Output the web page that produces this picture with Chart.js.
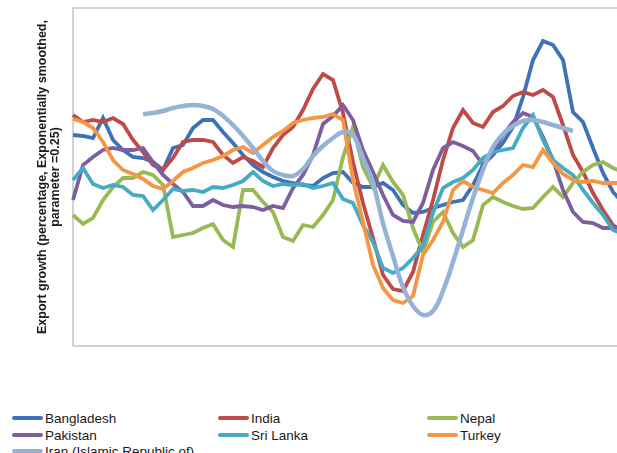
<!DOCTYPE html>
<html>
<head>
<meta charset="utf-8">
<script src="https://cdn.jsdelivr.net/npm/chart.js@4.4.1/dist/chart.umd.min.js"></script>
<style>
  html, body { margin: 0; padding: 0; background: #fff; overflow: hidden; }
  body { width: 617px; height: 453px; position: relative; }
  #wrap { position: absolute; left: 0; top: 0; width: 630px; height: 350px; }
  .leg { position: absolute; height: 17px; line-height: 17px; white-space: nowrap;
         font: 13.5px "Liberation Sans", Arial, sans-serif; color: #1a1a1a; }
  .leg i { display: inline-block; width: 31px; height: 4px; border-radius: 2px;
           vertical-align: middle; margin: -2px 2px 0 0; }
</style>
</head>
<body>
<div id="wrap"><canvas id="exportChart"></canvas></div>
<script>
// 56 periods, no tick labels shown on the original
const periods = Array.from({ length: 56 }, (_, i) => i + 1);

const bangladesh = [9, 8.8, 8.4, 12.4, 8, 6, 4.6, 4.4, 3.6, 2, 6.4, 7, 10.4, 12, 12, 9.6, 7.4, 5, 3, 1.6,
    0.6, -0.2, -0.6, -1, -1.2, 0.4, 1.4, 1.6, -0.6, -1.4, -1.4, -0.6, -2, -5, -6.6, -6.4, -5.6, -5, -4.4, -4,
    -1, 3, 5, 7.4, 10.6, 16.6, 24, 27.8, 27, 24, 13.6, 11.6, 6.4, 1.4, -2.4, -4.6];
const india = [13, 11.6, 12, 11.6, 12.4, 11.2, 8, 5.6, 3, 2, 4.4, 7.6, 8, 8, 7.6, 5, 3.4, 4.6, 3.8, 2.6,
    6.4, 9, 10.6, 14, 18.2, 21.2, 20, 13.4, 3.6, -4.6, -11.6, -19, -21.8, -22.2, -18.4, -11, -4, 4, 10.4, 14,
    11.4, 10.6, 13.6, 14.8, 16.8, 17.6, 17, 18, 16.6, 11, 5, 1.6, -2.6, -6, -9, -10.4];
const nepal = [-7, -8.8, -7.6, -4, -1.4, 0.4, 0.4, 1.6, 1, -1, -11.4, -11, -10.6, -9.6, -8.8, -12, -13.4, -2, -2, -4.4,
    -6.4, -11.4, -12.2, -9, -9.4, -7, -4, 4.6, 10.6, 2.6, -1.4, 3, -0.4, -3, -9.6, -14.4, -8.4, -6.4, -10.6, -13.4,
    -12, -5, -3.4, -4.4, -5.2, -5.8, -5.6, -3.4, -1.4, -3.4, -0.6, 1.6, 3, 3.6, 2.4, 1.6];
const pakistan = [-4, 3, 4.6, 6, 6.4, 6, 6, 6.4, 3.6, 1, -0.8, -2.4, -5.2, -5.2, -4, -5, -5.4, -5.2, -5.4, -6,
    -5.2, -5.6, -1.6, 1, 5, 11.2, 12.8, 15, 12, 6, 1.6, -3, -7, -8.2, -8.4, -4.6, 2, 6.4, 7.6, 6.8,
    5.8, 3, 5.6, 9, 11.6, 13.4, 12.6, 8.6, 4, -2, -6.4, -8.4, -8.6, -9.6, -9.6, -9.2];
const sriLanka = [0, 2.4, -0.8, -1.6, -1, -1.4, -3, -3.2, -6, -4, -1.8, -2.2, -2, -2.4, -1.4, -1.6, -1, -0.2, 1.6, -0.2,
    -1.2, -0.8, -1, -0.8, -1.6, -1.2, -0.6, -3.8, -4.6, -9, -12.4, -17.6, -18.6, -17.6, -15.6, -13.2, -6.6, -1.6, -0.4, 0.4,
    2, 4.4, 5.6, 6, 6.4, 10.4, 13, 8, 4, 2.4, 1, -2, -4.6, -7, -10, -10.8];
const turkey = [12.2, 11.6, 10.4, 7.6, 4, 2, 1.2, 0.2, -1.2, -1.8, -0.2, 1.6, 2.4, 3.4, 4, 4.8, 6, 6.6, 5.4, 7,
    8.6, 9.8, 11.4, 12, 12.4, 12.6, 13.2, 12, 0, -8.4, -17, -21.6, -24, -24.6, -23.2, -15, -12, -8.4, -2, -0.2,
    -1.4, -2, -2.6, -0.6, 1, 3, 2.6, 6, 3.4, 1.2, 0, -0.4, -0.2, -0.6, -0.6, -0.6];
const iran = [null, null, null, null, null, null, null,
    13.2, 13.4, 13.8, 14.4, 14.8, 15, 14.8, 14.2, 12.8, 11, 8.8, 6.4, 3.8, 1.8, 1, 0.8, 2.2, 4.8, 6.8, 8.4,
    9.6, 9, 4.4, -0.6, -8.6, -15.2, -21.4, -25.2, -27, -26.2, -22.2, -16.4, -10, -3.6, 2, 6.6, 9.2, 10.8, 11.8, 12,
    11.6, 11, 10.4, 9.8, null, null, null, null, null];

const seriesNames = ['Bangladesh', 'India', 'Nepal', 'Pakistan', 'Sri Lanka', 'Turkey', 'Iran (Islamic Republic of)'];
const seriesData = [bangladesh, india, nepal, pakistan, sriLanka, turkey, iran];
const seriesColors = ['#3d72b8', '#be4b48', '#98b954', '#7d5fa0', '#46aac5', '#f59645', '#95b3d7'];

// frame round the plot area
const plotBox = {
    id: 'plotBox',
    beforeDatasetsDraw(chart) {
        const a = chart.chartArea;
        const ctx = chart.ctx;
        ctx.save();
        ctx.strokeStyle = '#c4c4c4';
        ctx.lineWidth = 1.5;
        ctx.strokeRect(a.left, a.top, a.right - a.left, a.bottom - a.top);
        ctx.restore();
    }
};

var ctx = document.getElementById('exportChart').getContext('2d');
var chart = new Chart(ctx, {
    type: 'line',
    data: {
        labels: periods,
        datasets: seriesNames.map((name, i) => ({
            label: name,
            data: seriesData[i],
            borderColor: seriesColors[i],
            backgroundColor: seriesColors[i],
            borderWidth: i === 6 ? 4.5 : 3.8,
            tension: i === 6 ? 0.4 : 0,
            order: 7 - i, // later series on top, like the original
            pointRadius: 0,
            fill: false
        }))
    },
    options: {
        responsive: true,
        maintainAspectRatio: false,
        animation: false,
        layout: { padding: { left: 32.5, top: 8, right: 7, bottom: 4 } },
        scales: {
            x: { display: false, offset: false },
            y: {
                min: -33.2,
                max: 34.4,
                grid: { display: false, drawTicks: false },
                border: { display: false },
                ticks: { display: false },
                title: {
                    display: true,
                    text: ['Export growth (percentage, Exponentially smoothed,', 'parameter =0.25)'],
                    color: '#1a1a1a',
                    font: { family: 'Liberation Sans', size: 12.5, weight: 'bold', lineHeight: 1.0 },
                    padding: { top: 4, bottom: 11.5 }
                }
            }
        },
        plugins: {
            legend: { display: false },
            tooltip: { enabled: false }
        }
    },
    plugins: [plotBox]
});

// legend laid out in three columns under the plot
const legCols = [12, 218, 427];
const legRows = [419, 436, 452];
seriesNames.forEach((name, i) => {
    const el = document.createElement('div');
    el.className = 'leg';
    el.style.left = legCols[i % 3] + 'px';
    el.style.top = (legRows[Math.floor(i / 3)] - 8.5) + 'px';
    el.innerHTML = '<i style="background:' + seriesColors[i] + '"></i>' + name;
    document.body.appendChild(el);
});
</script>
</body>
</html>
